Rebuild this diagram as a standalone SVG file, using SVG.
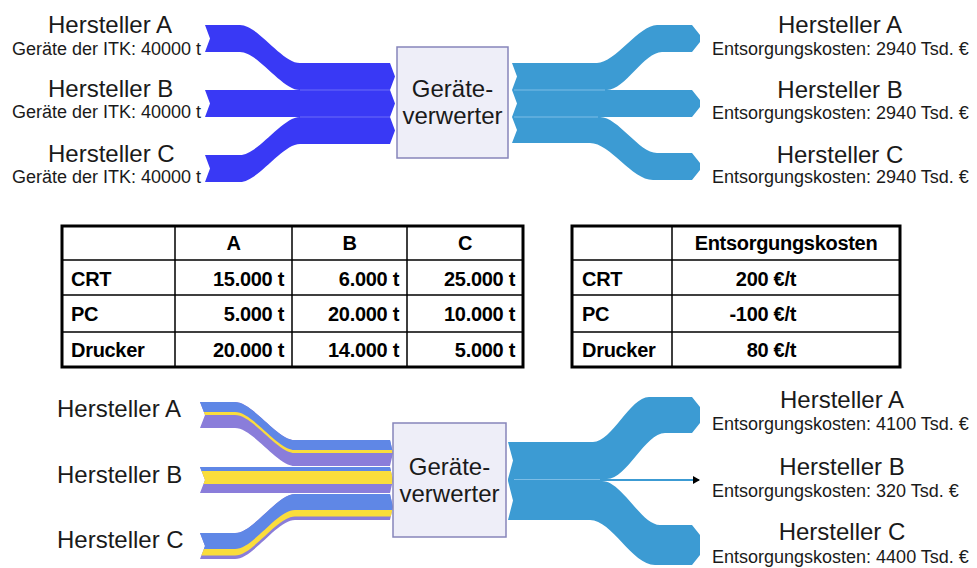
<svg xmlns="http://www.w3.org/2000/svg" width="977" height="568" viewBox="0 0 977 568">
<defs>
<style>
.h{font-family:"Liberation Sans",Arial,sans-serif;font-size:24px;fill:#1a1a1a}
.s{font-family:"Liberation Sans",Arial,sans-serif;font-size:18px;fill:#1a1a1a}
.bx{fill:#EEEEF8;stroke:#8785BA;stroke-width:1.5}
.bt{font-family:"Liberation Sans",Arial,sans-serif;font-size:24px;fill:#1a1a1a;text-anchor:middle}
.db{fill:#3939F5}
.lb{fill:#3C9BD3}
.cb{fill:#5F87E6}
.yl{fill:#FADD3C}
.pu{fill:#8A7DDA}
.seamD{stroke:#6C6CF8;stroke-width:1;fill:none}
.seamL{stroke:#7DBDE6;stroke-width:1;fill:none}
.tb{fill:none;stroke:#000;stroke-width:3}
.tl{stroke:#000;stroke-width:1.5}
.tt{font-family:"Liberation Sans",Arial,sans-serif;font-size:20px;font-weight:bold;fill:#000;letter-spacing:-0.3px}
.r{text-anchor:end}
.m{text-anchor:middle}
</style>
<marker id="ah" markerUnits="userSpaceOnUse" markerWidth="7" markerHeight="8" refX="6" refY="4" orient="auto">
<path d="M0,0 L7,4 L0,8 Z" fill="#000"/>
</marker>
<clipPath id="cA"><path d="M200,402 H235 C253,402 277,440 295,440 H390 L393,453 L390,466 H295 C277,466 253,428 235,428 H200 L205,415 Z"/></clipPath>
<clipPath id="cB"><path d="M200,467 H390 L393,480 L390,493 H200 L205,480 Z"/></clipPath>
<clipPath id="cC"><path d="M200,533 H235 C253,533 277,494 295,494 H390 L393,507 L390,520 H295 C277,520 253,559 235,559 H200 L205,546 Z"/></clipPath>
</defs>
<rect width="977" height="568" fill="#fff"/>

<g id="connectors">
<g id="top-in">
<path class="db" d="M205,25 H240 C258,25 282,63 300,63 H390 L395,76.5 L390,90 H300 C282,90 258,52 240,52 H205 L210,38.5 Z"/>
<path class="db" d="M205,90 H390 L395,103.5 L390,117 H205 L210,103.5 Z"/>
<path class="db" d="M205,155 H240 C258,155 282,117 300,117 H390 L395,130.5 L390,144 H300 C282,144 258,182 240,182 H205 L210,168.5 Z"/>
<path class="seamD" d="M300,90 H390 M300,117 H390"/>
</g>
<g id="top-out">
<path class="lb" d="M512,63 H597 C615,63 639,25 657,25 H692 L700,35 V42 L692,52 H662 C644,52 625,90 607,90 H512 L517,76.5 Z"/>
<path class="lb" d="M512,90 H692 L700,100 V107 L692,117 H512 L517,103.5 Z"/>
<path class="lb" d="M512,117 H600 C618,117 639,153 657,153 H692 L700,163 V170 L692,180 H653 C632,180 610,143 590,143 H512 L517,130 Z"/>
<path class="seamL" d="M514,90 H605 M514,117 H598"/>
</g>
<g id="bot-in">
<g clip-path="url(#cA)">
<path class="pu" d="M190,395 H400 V475 H190 Z"/>
<path class="cb" d="M190,402 H235 C253,402 277,440 295,440 H400 V450 H295 C277,450 253,412 235,412 H190 Z"/>
<path class="yl" d="M190,412 H235 C253,412 277,450 295,450 H400 V453 H295 C277,453 253,415 235,415 H190 Z"/>
</g>
<g clip-path="url(#cB)">
<rect class="pu" x="190" y="460" width="210" height="40"/>
<rect class="cb" x="190" y="460" width="210" height="11"/>
<rect class="yl" x="190" y="471" width="210" height="13"/>
</g>
<g clip-path="url(#cC)">
<path class="pu" d="M190,490 H400 V565 H190 Z"/>
<path class="cb" d="M190,533 H235 C253,533 277,494 295,494 H400 V510 H295 C277,510 253,549 235,549 H190 Z"/>
<path class="yl" d="M190,549 H235 C253,549 277,510 295,510 H400 V516.5 H295 C277,516.5 253,555.5 235,555.5 H190 Z"/>
</g>
</g>
<g id="bot-out">
<path class="lb" d="M508,442 H593 C612,442 630,397 649,397 H692 L700,407 V423 L692,433 H665 C645,433 627,479 607,479 H508 L513,460.5 Z"/>
<path class="lb" d="M508,481 H602 C622,481 641,525 660,525 H692 L700,535 V555 L692,565 H655 C632,565 612,520 590,520 H508 L513,500.5 Z"/>
<path d="M508,480 H699" stroke="#3C9BD3" stroke-width="2" fill="none" marker-end="url(#ah)"/>
<path class="seamL" d="M514,479.5 H600"/>
</g>
</g>

<g id="top-src-A"><text class="h" x="48" y="33">Hersteller A</text><text class="s" x="12" y="55">Geräte der ITK: 40000 t</text></g>
<g id="top-src-B"><text class="h" x="48" y="97">Hersteller B</text><text class="s" x="12" y="118">Geräte der ITK: 40000 t</text></g>
<g id="top-src-C"><text class="h" x="48" y="162">Hersteller C</text><text class="s" x="12" y="183">Geräte der ITK: 40000 t</text></g>
<g id="top-box"><rect class="bx" x="397" y="47" width="111" height="111"/><text class="bt" x="452.5" y="97">Geräte-</text><text class="bt" x="452.5" y="124">verwerter</text></g>
<g id="top-dst-A"><text class="h m" x="840" y="33">Hersteller A</text><text class="s" x="712" y="55">Entsorgungskosten: 2940 Tsd. €</text></g>
<g id="top-dst-B"><text class="h m" x="840" y="98">Hersteller B</text><text class="s" x="712" y="119">Entsorgungskosten: 2940 Tsd. €</text></g>
<g id="top-dst-C"><text class="h m" x="840" y="163">Hersteller C</text><text class="s" x="712" y="183">Entsorgungskosten: 2940 Tsd. €</text></g>

<g id="table-mengen">
<rect class="tb" x="62" y="226" width="461" height="141"/>
<path class="tl" d="M175,226 V367 M292,226 V367 M407,226 V367 M62,260 H523 M62,295 H523 M62,332 H523"/>
<text class="tt m" x="233.5" y="250">A</text>
<text class="tt m" x="349.5" y="250">B</text>
<text class="tt m" x="465" y="250">C</text>
<text class="tt" x="71" y="286">CRT</text>
<text class="tt r" x="284" y="286">15.000 t</text>
<text class="tt r" x="399" y="286">6.000 t</text>
<text class="tt r" x="515" y="286">25.000 t</text>
<text class="tt" x="71" y="321">PC</text>
<text class="tt r" x="284" y="321">5.000 t</text>
<text class="tt r" x="399" y="321">20.000 t</text>
<text class="tt r" x="515" y="321">10.000 t</text>
<text class="tt" x="71" y="357">Drucker</text>
<text class="tt r" x="284" y="357">20.000 t</text>
<text class="tt r" x="399" y="357">14.000 t</text>
<text class="tt r" x="515" y="357">5.000 t</text>
</g>

<g id="table-kosten">
<rect class="tb" x="572" y="226" width="328" height="141"/>
<path class="tl" d="M672,226 V367 M572,260 H900 M572,295 H900 M572,332 H900"/>
<text class="tt m" x="786" y="250">Entsorgungskosten</text>
<text class="tt" x="582" y="286">CRT</text>
<text class="tt r" x="796" y="286">200 €/t</text>
<text class="tt" x="582" y="321">PC</text>
<text class="tt r" x="796" y="321">-100 €/t</text>
<text class="tt" x="582" y="357">Drucker</text>
<text class="tt r" x="796" y="357">80 €/t</text>
</g>

<g id="bot-src-A"><text class="h" x="57" y="417">Hersteller A</text></g>
<g id="bot-src-B"><text class="h" x="57" y="483">Hersteller B</text></g>
<g id="bot-src-C"><text class="h" x="57" y="548">Hersteller C</text></g>
<g id="bot-box"><rect class="bx" x="393" y="423" width="113" height="114"/><text class="bt" x="449.5" y="475">Geräte-</text><text class="bt" x="449.5" y="502">verwerter</text></g>
<g id="bot-dst-A"><text class="h m" x="842" y="408">Hersteller A</text><text class="s" x="712" y="430">Entsorgungskosten: 4100 Tsd. €</text></g>
<g id="bot-dst-B"><text class="h m" x="842" y="475">Hersteller B</text><text class="s" x="712" y="497">Entsorgungskosten: 320 Tsd. €</text></g>
<g id="bot-dst-C"><text class="h m" x="842" y="540">Hersteller C</text><text class="s" x="712" y="563">Entsorgungskosten: 4400 Tsd. €</text></g>
</svg>
